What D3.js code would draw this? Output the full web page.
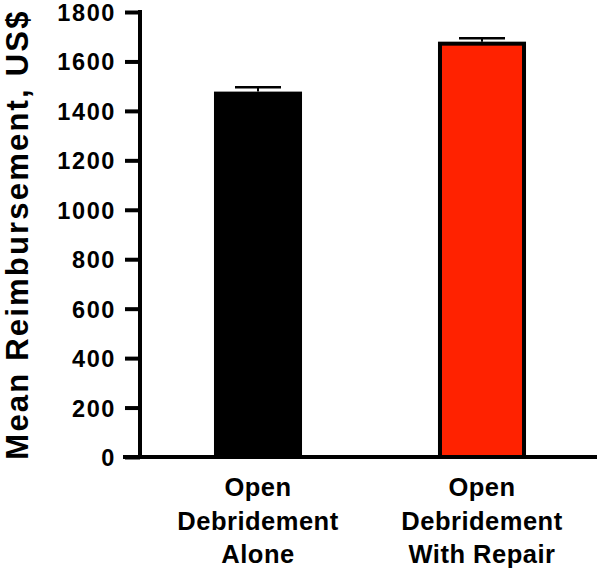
<!DOCTYPE html>
<html>
<head>
<meta charset="utf-8">
<script src="https://cdn.jsdelivr.net/npm/d3@7"></script>
<style>
  body { margin: 0; background: #fff; }
  text { font-family: "Liberation Sans", Arial, sans-serif; font-weight: bold; fill: #000; }
</style>
</head>
<body>
<svg id="chart" width="600" height="574"></svg>
<script>
var categories = ["Open Debridement Alone", "Open Debridement With Repair"];
var labelLines = [["Open", "Debridement", "Alone"], ["Open", "Debridement", "With Repair"]];
var means = [1478, 1680];
var errors = [18, 14];
var barColors = ["#000000", "#ff2200"];
var yTicks = [0, 200, 400, 600, 800, 1000, 1200, 1400, 1600, 1800];

var svg = d3.select("#chart");
var axisX = 140, y0 = 457, yTop = 12;

var y = d3.scaleLinear().domain([0, 1800]).range([y0, yTop]);
var x = d3.scaleBand().domain(categories).range([146, 594])
    .paddingInner(0.607).paddingOuter(0.3035);

// bars
svg.selectAll(".bar")
    .data(categories)
    .enter().append("rect")
    .attr("x", function(d) { return x(d) + 2; })
    .attr("width", x.bandwidth() - 4)
    .attr("y", function(d, i) { return y(means[i]) + 2; })
    .attr("height", function(d, i) { return y0 - y(means[i]) - 2; })
    .attr("fill", function(d, i) { return barColors[i]; })
    .attr("stroke", "#000")
    .attr("stroke-width", 4);

// error bars (upper only)
var err = svg.selectAll(".err").data(categories).enter().append("g");
err.append("line")
    .attr("x1", function(d) { return x(d) + x.bandwidth() / 2; })
    .attr("x2", function(d) { return x(d) + x.bandwidth() / 2; })
    .attr("y1", function(d, i) { return y(means[i]); })
    .attr("y2", function(d, i) { return y(means[i] + errors[i]); })
    .attr("stroke", "#000").attr("stroke-width", 2);
err.append("line")
    .attr("x1", function(d) { return x(d) + x.bandwidth() / 2 - 23; })
    .attr("x2", function(d) { return x(d) + x.bandwidth() / 2 + 23; })
    .attr("y1", function(d, i) { return y(means[i] + errors[i]); })
    .attr("y2", function(d, i) { return y(means[i] + errors[i]); })
    .attr("stroke", "#000").attr("stroke-width", 2.5);

// y axis
var yAxis = svg.append("g")
    .attr("transform", "translate(" + axisX + ",0)")
    .call(d3.axisLeft(y).tickValues(yTicks).tickSize(15).tickPadding(9).tickFormat(d3.format("d")));
yAxis.select(".domain").remove();
yAxis.selectAll(".tick line").attr("stroke", "#000").attr("stroke-width", 4);
yAxis.selectAll(".tick text")
    .style("font-size", "23.5px")
    .style("letter-spacing", "1.6px")
    .attr("dy", "0.36em");
svg.append("line")
    .attr("x1", axisX).attr("x2", axisX)
    .attr("y1", yTop - 2).attr("y2", y0 + 2)
    .attr("stroke", "#000").attr("stroke-width", 4);

// x axis
svg.append("line")
    .attr("x1", 123).attr("x2", 597)
    .attr("y1", y0).attr("y2", y0)
    .attr("stroke", "#000").attr("stroke-width", 4);

// category labels
svg.selectAll(".cat")
    .data(categories)
    .enter().append("text")
    .attr("text-anchor", "middle")
    .style("font-size", "25.5px")
    .style("letter-spacing", "0.5px")
    .each(function(d, i) {
        var t = d3.select(this);
        labelLines[i].forEach(function(line, j) {
            t.append("tspan")
                .attr("x", x(d) + x.bandwidth() / 2)
                .attr("y", 496 + j * 33.7)
                .text(line);
        });
    });

// y title
svg.append("text")
    .attr("transform", "translate(28," + ((yTop + y0) / 2) + ") rotate(-90)")
    .attr("text-anchor", "middle")
    .style("font-size", "31px")
    .style("letter-spacing", "2.2px")
    .text("Mean Reimbursement, US$");
</script>
</body>
</html>
